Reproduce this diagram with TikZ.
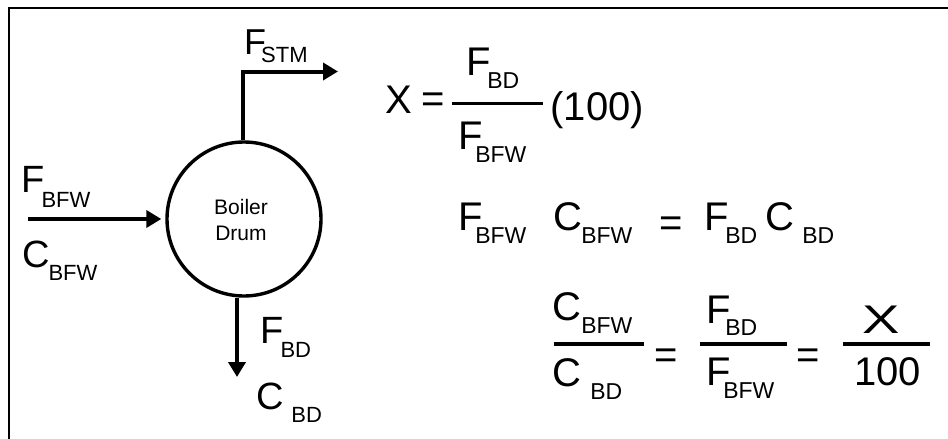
\documentclass[tikz,border=0pt]{standalone}
\usepackage{fontspec}
\setmainfont{Liberation Sans}
\usetikzlibrary{arrows.meta}
\newcommand\subx[4]{\kern#1pt\raisebox{-#2pt}{\fontsize{#3}{#3}\selectfont #4}}
\tikzset{
  big/.style={font=\fontsize{40}{48}\selectfont, anchor=base west, inner sep=0pt, outer sep=0pt},
  dbig/.style={font=\fontsize{38}{46}\selectfont, anchor=base west, inner sep=0pt, outer sep=0pt},
  eqsign/.style={font=\fontsize{40}{48}\selectfont, anchor=center, inner sep=0pt, outer sep=0pt},
  flow/.style={line width=4pt, -{Triangle[length=15pt,width=17pt]}},
  bar/.style={line width=3.2pt},
  frame/.style={line width=2.8pt}
}
\begin{document}
\begin{tikzpicture}[x=1pt,y=-1pt]
\useasboundingbox (0,0) rectangle (948,439);
% frame (top and left edges visible)
\coordinate (fbl) at (9,445);
\coordinate (ftr) at (955,8);
\draw[frame] (fbl) |- (ftr);

% boiler drum
\node[draw, circle, line width=3.4pt, minimum size=154pt, inner sep=0pt] (drum) at (244,219) {};
\node[font=\fontsize{21}{26}\selectfont, align=center, inner sep=0pt] (drumtxt) at (241,220) {Boiler\\Drum};

% streams
\coordinate (in) at (28,219);
\draw[flow, shorten >=4pt] (in) -- (drum.west);
\coordinate (stm) at (338,71.5);
\draw[flow] (drum.north -| 243,0) |- (stm);
\coordinate (bd) at (237,377);
\draw[flow] (drum.south -| bd) -- (bd);

% stream labels
\node[font=\fontsize{36}{44}\selectfont, anchor=base west, inner sep=0pt] (fstm) at (244,54) {F\subx{-5}{8}{22}{STM}};
\node[dbig] (fbfwl) at (21,192) {F\subx{-2.7}{15}{22}{BFW}};
\node[dbig] (cbfwl) at (22,267) {C\subx{-0.9}{13}{22}{BFW}};
\node[dbig] (fbdl) at (260,343) {F\subx{-2.7}{14}{22}{BD}};
\node[dbig] (cbdl) at (256,409) {C\subx{8}{13}{22}{BD}};

% equation 1
\node[big] (x1) at (385,113) {X};
\node[eqsign] (eq1) at (433.5,103) {=};
\coordinate (b1a) at (452,103.5);
\coordinate (b1b) at (543,103.5);
\draw[bar] (b1a) -- (b1b);
\node[big] (e1n) at (466.7,75) {F\subx{-3.8}{13}{23}{BD}};
\node[big] (e1d) at (458.7,149) {F\subx{-7.8}{13}{23}{BFW}};
\node[big] (hund1) at (550.6,120) {(100)};

% equation 2
\node[big] (e2a) at (458,230) {F\subx{-7.1}{13}{23}{BFW}};
\node[big] (e2b) at (553,230) {C\subx{-0.6}{13}{23}{BFW}};
\node[eqsign] (eq2) at (671.5,227) {=};
\node[big] (e2c) at (704.7,230) {F\subx{-3.8}{13}{23}{BD}};
\node[big] (e2d) at (765,230) {C\subx{8.4}{13}{23}{BD}};

% equation 3
\node[big] (e3a) at (552,320) {C\subx{0.4}{13}{23}{BFW}};
\coordinate (b3a) at (554,344);
\coordinate (b3b) at (644,344);
\draw[bar] (b3a) -- (b3b);
\node[big] (e3b) at (552,386) {C\subx{9.4}{13}{23}{BD}};
\node[eqsign] (eq3) at (666.5,359) {=};
\node[big] (e3c) at (706.7,323) {F\subx{-5.8}{12}{23}{BD}};
\coordinate (b3c) at (700,344);
\coordinate (b3d) at (787,344);
\draw[bar] (b3c) -- (b3d);
\node[big] (e3d) at (706.7,385) {F\subx{-7.8}{13}{23}{BFW}};
\node[eqsign] (eq4) at (808.5,359) {=};
\coordinate (b3e) at (843,344);
\coordinate (b3f) at (930,344);
\draw[bar] (b3e) -- (b3f);
\node[font=\fontsize{40}{48}\selectfont, anchor=base, inner sep=0pt] (x3) at (881,333) {\scalebox{1.4}[1]{X}};
\node[font=\fontsize{40}{48}\selectfont, anchor=base, inner sep=0pt] (hund3) at (887.5,385) {100};
\end{tikzpicture}
\end{document}
